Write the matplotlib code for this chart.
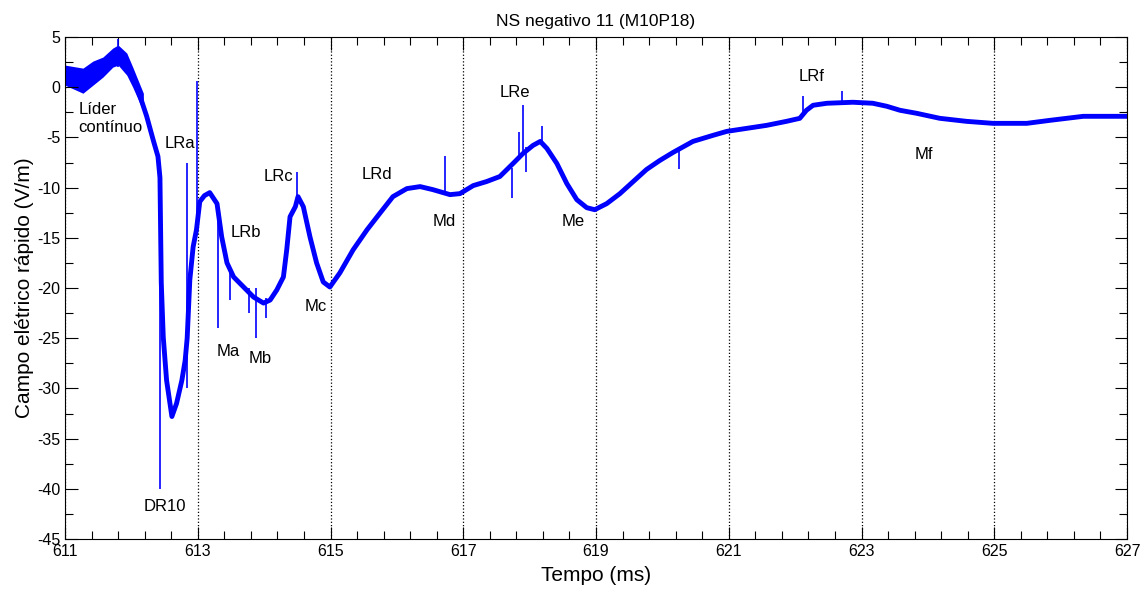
import numpy as np
import matplotlib
matplotlib.use("Agg")
import matplotlib.pyplot as plt

plt.rcParams['font.family'] = ['Liberation Sans', 'DejaVu Sans']
plt.rcParams['axes.unicode_minus'] = False

# campo eletrico (curva media)
tempo = [611.00, 611.12, 611.28, 611.43, 611.58, 611.72, 611.80, 611.90, 612.00,
         612.13, 612.23, 612.33, 612.40, 612.43, 612.45, 612.48, 612.53, 612.61,
         612.68, 612.76, 612.81, 612.84, 612.88, 612.93, 612.98, 613.03, 613.10,
         613.18, 613.29, 613.36, 613.44, 613.54, 613.69, 613.84, 613.99, 614.09,
         614.19, 614.29, 614.34, 614.39, 614.47, 614.51, 614.59, 614.69, 614.79,
         614.89, 614.99, 615.14, 615.34, 615.55, 615.75, 615.94, 616.15, 616.35,
         616.54, 616.80, 616.95, 617.15, 617.35, 617.55, 617.75, 617.90, 618.05,
         618.16, 618.26, 618.41, 618.56, 618.71, 618.86, 618.98, 619.16, 619.36,
         619.56, 619.76, 619.96, 620.16, 620.46, 620.76, 620.97, 621.27, 621.57,
         621.87, 622.07, 622.17, 622.27, 622.48, 622.87, 623.17, 623.38, 623.58,
         623.83, 624.18, 624.58, 624.98, 625.49, 625.84, 626.34, 627.00]
campo = [1.0, 1.4, 0.7, 1.4, 2.2, 2.9, 3.3, 2.4, 1.4,
         -0.9, -2.9, -5.3, -6.9, -9.0, -19.5, -24.9, -29.2, -32.8,
         -31.5, -29.2, -27.2, -25.0, -19.2, -15.9, -14.2, -11.4, -10.8,
         -10.5, -11.6, -14.9, -17.5, -18.9, -19.9, -20.9, -21.5, -21.2,
         -20.2, -18.9, -16.2, -12.9, -11.9, -10.9, -11.9, -14.9, -17.5,
         -19.4, -19.9, -18.5, -16.2, -14.2, -12.5, -10.9, -10.1, -9.9,
         -10.2, -10.7, -10.6, -9.8, -9.4, -8.9, -7.6, -6.6, -5.8,
         -5.4, -6.1, -7.6, -9.6, -11.2, -12.0, -12.2, -11.6, -10.6,
         -9.4, -8.2, -7.3, -6.5, -5.4, -4.8, -4.4, -4.1, -3.8,
         -3.4, -3.1, -2.3, -1.8, -1.6, -1.5, -1.6, -1.9, -2.3,
         -2.6, -3.1, -3.4, -3.6, -3.6, -3.3, -2.9, -2.9]

# ruido do lider continuo
t_ruido = [611.00, 611.27, 611.42, 611.57, 611.72, 611.80, 611.93, 612.02, 612.18]
ruido_sup = [2.2, 1.9, 2.6, 3.0, 3.9, 4.2, 3.4, 2.0, -0.6]
ruido_inf = [0.2, -0.6, 0.2, 1.0, 2.0, 2.2, 1.2, 0.0, -2.4]

# picos (tempo, inicio, fim)
pico_t = [611.80, 612.43, 612.83, 612.99, 613.31, 613.49, 613.77, 613.88, 614.03,
          614.49, 616.72, 617.73, 617.84, 617.90, 617.95, 618.18, 620.25, 622.12,
          622.70]
pico_y0 = [2.0, -9.5, -30.0, -14.0, -12.0, -18.0, -20.0, -20.0, -21.0,
           -11.0, -10.5, -8.0, -7.0, -6.6, -6.0, -5.5, -6.4, -2.8, -1.6]
pico_y1 = [4.8, -40.0, -7.5, 0.6, -24.0, -21.2, -22.5, -25.0, -23.0,
           -8.4, -6.9, -11.0, -4.5, -1.8, -8.4, -3.9, -8.1, -0.9, -0.4]

rotulos = ["Líder\ncontínuo", "LRa", "LRb", "LRc", "LRd", "LRe", "LRf",
           "DR10", "Ma", "Mb", "Mc", "Md", "Me", "Mf"]
rot_x = [611.20, 612.73, 613.73, 614.22, 615.70, 617.78, 622.25,
         612.51, 613.46, 613.94, 614.78, 616.72, 618.65, 623.94]
rot_y = [-3.1, -5.6, -14.5, -8.9, -8.7, -0.5, 1.1,
         -41.8, -26.3, -27.0, -21.8, -13.4, -13.4, -6.75]

xticks = np.arange(611, 628, 2)
yticks = np.arange(-45, 6, 5)

fig = plt.figure(figsize=(11.45, 5.90), dpi=100)
ax = fig.add_axes([0.0568, 0.0864, 0.9275, 0.8509])

cor = (0, 0, 1)
ax.fill_between(t_ruido, ruido_inf, ruido_sup, color=cor, lw=0)
ax.plot(tempo, campo, color=cor, lw=3.5)
ax.vlines(pico_t, pico_y0, pico_y1, color=cor, lw=1.2)

for txt, x, y in zip(rotulos, rot_x, rot_y):
    ha = 'left' if txt.startswith("Líder") else 'center'
    ax.text(x, y, txt, ha=ha, va='center', fontsize=12, linespacing=1.3)

ax.set_xlim(611, 627)
ax.set_ylim(-45, 5)
ax.set_xticks(xticks)
ax.set_xticks(np.arange(611, 627.01, 0.4), minor=True)
ax.set_yticks(yticks)
ax.set_yticks(np.arange(-45, 5.01, 2.5), minor=True)
ax.tick_params(which='both', direction='in', top=True, right=True,
               labelsize=11.5, width=0.8)
ax.tick_params(which='major', length=9)
ax.tick_params(which='minor', length=6)
ax.grid(True, axis='x', which='major', color='k', linestyle=':', lw=0.9)

ax.set_title("NS negativo 11 (M10P18)", fontsize=12.5, pad=8)
ax.set_xlabel("Tempo (ms)", fontsize=15, labelpad=5)
ax.set_ylabel("Campo elétrico rápido (V/m)", fontsize=15, labelpad=2)

plt.savefig("out.png", dpi=100)
